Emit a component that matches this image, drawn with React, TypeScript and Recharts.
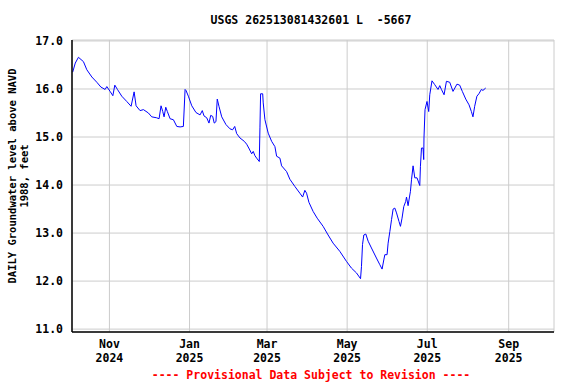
import React from 'react';
import { LineChart, Line, XAxis, YAxis, CartesianGrid } from 'recharts';

// days since 2024-10-01
const days: number[] = [
  3, 5.0, 7.4, 11.2, 13.8, 17.6, 21.4, 24.5, 27.7, 29.0, 31.5, 33.6, 35.1, 37.1, 40.4, 44.2, 47.5, 49.8, 51.3,
  54.3, 56.9, 60.7, 63.2, 67.0, 68.8, 70.3, 71.6, 72.6, 73.9, 75.1, 77.2, 79.7, 82.3, 84.8, 87.3, 88.6, 89.3,
  91.1, 93.7, 96.9, 100.0, 101.7, 103.0, 105.1, 106.8, 108.1, 109.6, 110.8, 112.1, 113.1, 114.4, 116.5, 119.7,
  122.8, 124.8, 126.4, 127.9, 130.4, 133.7, 135.5, 137.5, 139.3, 140.5, 141.8, 143.1, 145.1, 145.6, 146.1,
  147.7, 148.1, 149.4, 151.9, 154.5, 157.0, 158.3, 160.8, 162.1, 165.9, 168.4, 172.2, 176.0, 178.1, 179.8,
  181.1, 182.9, 186.1, 189.2, 193.7, 197.5, 201.3, 206.4, 211.5, 215.3, 219.1, 222.2, 222.9, 223.7, 224.7,
  226.2, 228.0, 230.5, 234.3, 236.9, 238.6, 239.9, 240.7, 242.4, 243.2, 244.5, 245.8, 247.0, 248.3, 249.6,
  251.5, 252.6, 253.8, 255.1, 256.6, 257.2, 258.4, 259.1, 260.2, 261.0, 262.2, 263.5, 265.2, 267.3, 267.8,
  268.6, 269.8, 270.3, 270.5, 271.3, 272.8, 274.1, 274.9, 276.6, 278.7, 281.2, 282.5, 283.8, 285.8, 287.6,
  290.1, 292.6, 295.6, 297.7, 299.7, 302.3, 304.8, 306.6, 307.8, 309.1, 310.8, 312.3, 314.2, 315.4, 317.5,
];

const levels: number[] = [
  16.35, 16.54, 16.66, 16.57, 16.40, 16.25, 16.14, 16.04, 15.99, 16.05, 15.95, 15.86, 16.08, 15.99, 15.85, 15.74, 15.64, 15.94, 15.65,
  15.55, 15.57, 15.50, 15.42, 15.40, 15.38, 15.65, 15.53, 15.42, 15.62, 15.53, 15.38, 15.36, 15.22, 15.21, 15.22, 15.99, 15.97,
  15.85, 15.65, 15.51, 15.46, 15.55, 15.44, 15.40, 15.29, 15.45, 15.43, 15.29, 15.32, 15.79, 15.64, 15.42, 15.26,
  15.17, 15.15, 15.22, 15.07, 14.98, 14.91, 14.85, 14.75, 14.65, 14.70, 14.61, 14.56, 14.49, 15.19, 15.90,
  15.90, 15.71, 15.36, 15.08, 14.91, 14.80, 14.60, 14.56, 14.40, 14.28, 14.12, 13.97, 13.83, 13.75, 13.89,
  13.83, 13.64, 13.45, 13.31, 13.14, 12.96, 12.79, 12.62, 12.41, 12.27, 12.17, 12.05, 12.30, 12.76, 12.96,
  12.98, 12.83, 12.69, 12.48, 12.34, 12.25, 12.44, 12.55, 12.55, 12.79, 13.03, 13.28, 13.50, 13.52, 13.42,
  13.24, 13.14, 13.31, 13.55, 13.66, 13.75, 13.57, 13.69, 13.87, 14.11, 14.40, 14.15, 14.15, 13.99, 14.39,
  14.77, 14.77, 14.53, 14.98, 15.57, 15.74, 15.53, 15.88, 16.17, 16.09, 15.99, 16.07, 15.99, 15.88, 16.16,
  16.14, 15.95, 16.10, 16.08, 15.95, 15.79, 15.67, 15.53, 15.42, 15.64, 15.85, 15.90, 15.99, 15.97, 16.02,
];

const xTicks: number[] = [31, 92, 151, 212, 273, 335];
const xTickMonths: string[] = ['Nov', 'Jan', 'Mar', 'May', 'Jul', 'Sep'];
const xTickYears: string[] = ['2024', '2025', '2025', '2025', '2025', '2025'];
const yTicks: number[] = [11, 12, 13, 14, 15, 16, 17];

const title = 'USGS 262513081432601 L  -5667';
const yLabel1 = 'DAILY Groundwater level above NAVD';
const yLabel2 = '1988, feet';
const footer = '---- Provisional Data Subject to Revision ----';

const data = days.map((d, i) => ({ day: d, level: levels[i] }));

const FONT = '"DejaVu Sans Mono", "Liberation Mono", monospace';

const XTick = (props: any) => {
  const { x, y, payload } = props;
  const idx = xTicks.indexOf(payload.value);
  return (
    <g>
      <text x={x} y={y + 14} textAnchor="middle" fontFamily={FONT} fontWeight="bold" fontSize={11.5} fill="#000">
        {xTickMonths[idx]}
      </text>
      <text x={x} y={y + 28} textAnchor="middle" fontFamily={FONT} fontWeight="bold" fontSize={11.5} fill="#000">
        {xTickYears[idx]}
      </text>
    </g>
  );
};

export default function App() {
  return (
    <div style={{ position: 'absolute', left: 0, top: 0, width: 576, height: 384, background: '#fff' }}>
      <svg width={576} height={384} style={{ position: 'absolute', left: 0, top: 0 }}>
        <text x={311} y={24} textAnchor="middle" fontFamily={FONT} fontWeight="bold" fontSize={11.5} fill="#000" xmlSpace="preserve">
          {title}
        </text>
        <text x={311} y={379} textAnchor="middle" fontFamily={FONT} fontWeight="bold" fontSize={11.5} fill="#ff0000">
          {footer}
        </text>
        <text transform="translate(16,176) rotate(-90)" textAnchor="middle" fontFamily={FONT} fontWeight="bold" fontSize={10.5} fill="#000">
          {yLabel1}
        </text>
        <text transform="translate(28,176) rotate(-90)" textAnchor="middle" fontFamily={FONT} fontWeight="bold" fontSize={10.5} fill="#000">
          {yLabel2}
        </text>
      </svg>
      <div style={{ position: 'absolute', left: 0, top: 0 }}>
        <LineChart width={576} height={384} data={data} margin={{ top: 40, right: 22, bottom: 0, left: 0 }}>
          <CartesianGrid xAxisId="b" yAxisId="l" stroke="#cccccc" strokeWidth={1} />
          <XAxis
            xAxisId="b"
            type="number"
            dataKey="day"
            domain={[2.5, 369.5]}
            ticks={xTicks}
            allowDataOverflow
            height={52}
            tick={<XTick />}
            tickLine={false}
            tickSize={0}
            axisLine={{ stroke: '#000', strokeWidth: 1.5 }}
          />
          <XAxis
            xAxisId="t"
            orientation="top"
            type="number"
            dataKey="day"
            domain={[2.5, 369.5]}
            height={0}
            tick={false}
            tickLine={false}
            axisLine={{ stroke: '#000', strokeWidth: 1.5 }}
          />
          <YAxis
            yAxisId="l"
            type="number"
            domain={[10.94, 17.02]}
            ticks={yTicks}
            allowDataOverflow
            width={72}
            tickLine={false}
            tickSize={0}
            tickMargin={9}
            tickFormatter={(v: number) => v.toFixed(1)}
            tick={{ fontFamily: FONT, fontWeight: 'bold', fontSize: 11.5, fill: '#000' }}
            axisLine={{ stroke: '#000', strokeWidth: 1.5 }}
          />
          <YAxis
            yAxisId="r"
            orientation="right"
            type="number"
            domain={[10.94, 17.02]}
            width={0}
            tick={false}
            tickLine={false}
            axisLine={{ stroke: '#000', strokeWidth: 1.5 }}
          />
          <Line
            xAxisId="b"
            yAxisId="l"
            type="linear"
            dataKey="level"
            stroke="#0000ff"
            strokeWidth={1}
            dot={false}
            isAnimationActive={false}
          />
        </LineChart>
      </div>
    </div>
  );
}
